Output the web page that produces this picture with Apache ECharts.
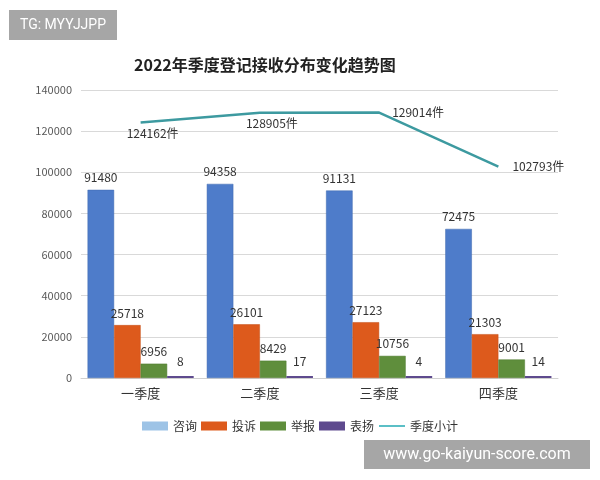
<!DOCTYPE html>
<html><head><meta charset="utf-8">
<script src="https://cdn.jsdelivr.net/npm/echarts@6/dist/echarts.min.js"></script>
<style>html,body{margin:0;padding:0;background:#fff}#c{width:600px;height:480px}</style>
</head><body><div id="c"></div>
<script>
const categories = ['一季度', '二季度', '三季度', '四季度'];
const zixun = [91480, 94358, 91131, 72475];
const tousu = [25718, 26101, 27123, 21303];
const jubao = [6956, 8429, 10756, 9001];
const biaoyang = [8, 17, 4, 14];
const subtotal = [124162, 128905, 129014, 102793];
const yTicks = { min: 0, max: 140000, interval: 20000 };

// label placement styles for the line labels (style only)
const lineLabelStyle = [
  { position: 'bottom', offset: [12, 0] },
  { position: 'bottom', offset: [12, 0] },
  { position: 'right', offset: [8, 0] },
  { position: 'right', offset: [9, 0] }
];

const chart = echarts.init(document.getElementById('c'));
const font = '"Noto Sans CJK SC", "Noto Sans", sans-serif';
const barLabel = { show: true, position: 'top', distance: 6, color: '#333', fontSize: 12, fontFamily: font };

chart.setOption({
  animation: false,
  backgroundColor: '#fff',
  textStyle: { fontFamily: font },
  title: {
    text: '2022年季度登记接收分布变化趋势图',
    left: 129, top: 52,
    textStyle: { fontSize: 16, fontWeight: 'bold', color: '#222', fontFamily: font }
  },
  graphic: [
    { type: 'rect', shape: { x: 9, y: 10, width: 108, height: 30 }, style: { fill: '#a6a6a6' } },
    { type: 'text', x: 63, y: 25, style: { text: 'TG: MYYJJPP', fill: '#fff', fontSize: 14, fontFamily: 'Roboto, sans-serif', align: 'center', verticalAlign: 'middle' } },
    { type: 'rect', shape: { x: 364, y: 440, width: 226, height: 29 }, style: { fill: '#a6a6a6' } },
    { type: 'text', x: 477, y: 455, style: { text: 'www.go-kaiyun-score.com', fill: '#fff', fontSize: 16, fontFamily: 'Roboto, sans-serif', align: 'center', verticalAlign: 'middle' } }
  ],
  grid: { left: 81, right: 42, top: 90, bottom: 102, containLabel: false },
  legend: {
    top: 415, left: 'center',
    itemWidth: 26, itemHeight: 9, itemGap: 4,
    textStyle: { fontSize: 12, color: '#333', fontFamily: font },
    data: [
      { name: '咨询', icon: 'rect', itemStyle: { color: '#9DC3E6', borderWidth: 0 } },
      { name: '投诉', icon: 'rect', itemStyle: { borderWidth: 0 } },
      { name: '举报', icon: 'rect', itemStyle: { borderWidth: 0 } },
      { name: '表扬', icon: 'rect', itemStyle: { borderWidth: 0 } },
      { name: '季度小计', itemStyle: { opacity: 0 }, lineStyle: { color: '#5BBFC6', width: 2 } }
    ]
  },
  xAxis: {
    type: 'category', data: categories,
    axisLine: { lineStyle: { color: '#d0d0d0', width: 1 } },
    axisTick: { show: false },
    axisLabel: { fontSize: 13, color: '#333', margin: 9, fontFamily: font }
  },
  yAxis: {
    type: 'value', min: yTicks.min, max: yTicks.max, interval: yTicks.interval,
    axisLine: { show: false }, axisTick: { show: false },
    axisLabel: { fontSize: 11, color: '#595959', margin: 9, formatter: v => String(v) },
    splitLine: { lineStyle: { color: '#d9d9d9', width: 1 } }
  },
  series: [
    { name: '咨询', type: 'bar', data: zixun, barGap: 0, barCategoryGap: '11%',
      itemStyle: { color: '#4E7CCA', borderColor: '#3F68AE', borderWidth: 0.5 }, label: barLabel },
    { name: '投诉', type: 'bar', data: tousu, barGap: 0, barCategoryGap: '11%',
      itemStyle: { color: '#DD5A1C', borderColor: '#C24C14', borderWidth: 0.5 }, label: barLabel },
    { name: '举报', type: 'bar', data: jubao, barGap: 0, barCategoryGap: '11%',
      itemStyle: { color: '#5F8E3C', borderColor: '#4F7A30', borderWidth: 0.5 }, label: barLabel },
    { name: '表扬', type: 'bar', data: biaoyang, barGap: 0, barCategoryGap: '11%', barMinHeight: 2,
      itemStyle: { color: '#5E4A8E' }, label: Object.assign({}, barLabel, { distance: 9 }) },
    { name: '季度小计', type: 'line', symbol: 'circle', symbolSize: 0.01,
      data: subtotal.map((v, i) => ({ value: v, label: lineLabelStyle[i] })),
      lineStyle: { color: '#3D9AA0', width: 2.5 },
      itemStyle: { color: '#3D9AA0' },
      label: { show: true, color: '#333', fontSize: 12, fontFamily: font, formatter: p => p.value + '件' } }
  ]
});
</script></body></html>
